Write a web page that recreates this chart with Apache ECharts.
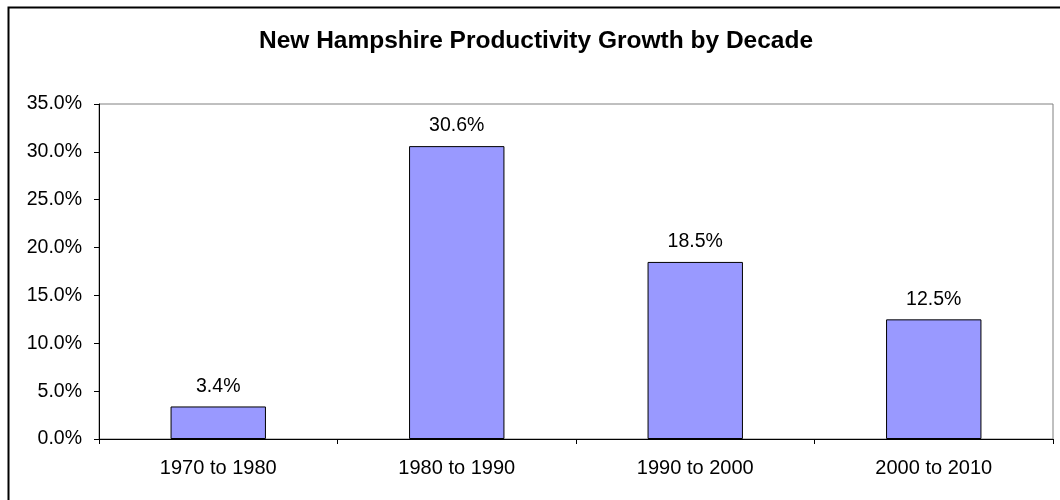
<!DOCTYPE html>
<html>
<head>
<meta charset="utf-8">
<script src="https://cdn.jsdelivr.net/npm/echarts@6/dist/echarts.min.js"></script>
<style>
  html, body { margin: 0; padding: 0; background: #fff; }
  #chart { width: 1060px; height: 500px; }
</style>
</head>
<body>
<div id="chart"></div>
<script>
// Productivity growth per decade, in percent
const decades = ['1970 to 1980', '1980 to 1990', '1990 to 2000', '2000 to 2010'];
const growth = [3.4, 30.6, 18.5, 12.5];
const titleText = 'New Hampshire Productivity Growth by Decade';

const chart = echarts.init(document.getElementById('chart'));
const font = 'Arial, "Liberation Sans", sans-serif';

chart.setOption({
  animation: false,
  backgroundColor: '#fff',
  textStyle: { fontFamily: font },
  title: {
    text: titleText,
    left: 531,
    textAlign: 'center',
    top: 24,
    textStyle: { fontFamily: font, fontSize: 24.5, fontWeight: 'bold', color: '#000' }
  },
  graphic: [{
    type: 'rect',
    shape: { x: 8.5, y: 7.5, width: 1070, height: 520 },
    style: { fill: null, stroke: '#000', lineWidth: 2 },
    silent: true,
    z: 100
  }],
  grid: {
    left: 99, right: 7, top: 104, bottom: 61,
    show: true,
    borderColor: '#808080',
    borderWidth: 1,
    backgroundColor: 'transparent'
  },
  xAxis: {
    type: 'category',
    data: decades,
    axisLine: { lineStyle: { color: '#000', width: 1 } },
    axisTick: { show: true, length: 5, inside: false, alignWithLabel: false, lineStyle: { color: '#000' } },
    axisLabel: { color: '#000', fontSize: 20, margin: 19, fontFamily: font },
    splitLine: { show: false }
  },
  yAxis: {
    type: 'value',
    min: 0, max: 35, interval: 5,
    axisLine: { show: true, lineStyle: { color: '#000', width: 1 } },
    axisTick: { show: true, length: 5, lineStyle: { color: '#000' } },
    axisLabel: {
      color: '#000', fontSize: 19.5, margin: 17, fontFamily: font,
      formatter: v => v.toFixed(1) + '%'
    },
    splitLine: { show: false }
  },
  series: [{
    type: 'bar',
    data: growth,
    barWidth: '40%',
    itemStyle: { color: '#9999FF', borderColor: '#000', borderWidth: 1 },
    label: {
      show: true,
      position: 'top',
      distance: 10,
      color: '#000',
      fontSize: 19.5,
      fontFamily: font,
      formatter: p => p.value.toFixed(1) + '%'
    }
  }]
});
</script>
</body>
</html>
